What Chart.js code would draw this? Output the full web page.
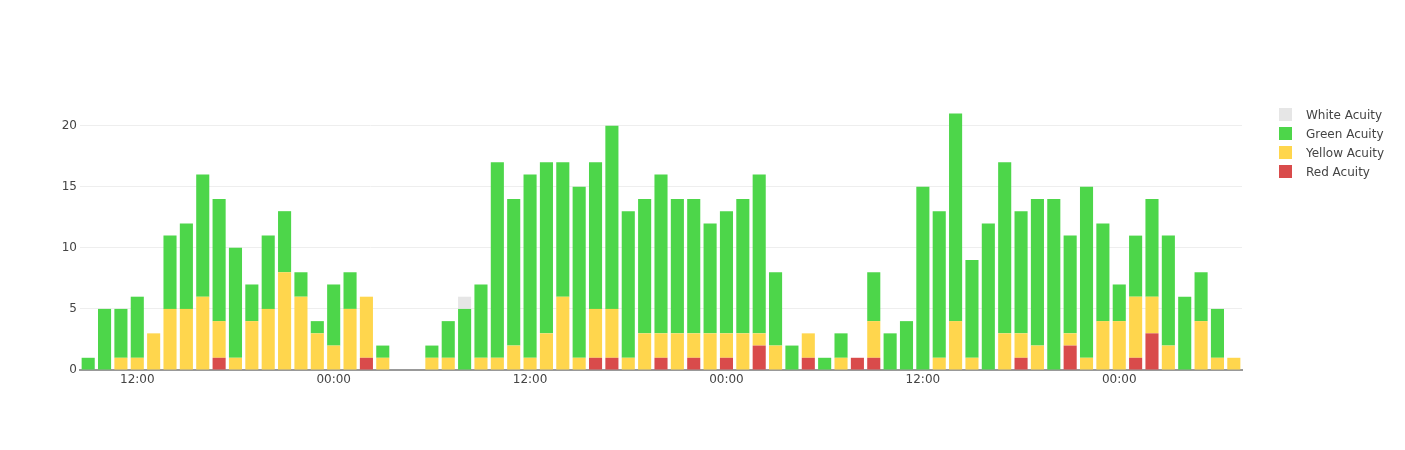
<!DOCTYPE html>
<html>
<head>
<meta charset="utf-8">
<script src="https://cdn.jsdelivr.net/npm/chart.js@4"></script>
<style>
  html, body { margin: 0; padding: 0; background: #fff; }
  #wrap { position: relative; width: 1405px; height: 450px; }
  #legend { position: absolute; left: 1279px; top: 105px; font: 12px "DejaVu Sans", sans-serif; color: #444; }
  #legend div { height: 19px; display: flex; align-items: center; }
  #legend span.box { width: 13px; height: 13px; margin-right: 14px; display: inline-block; }
</style>
</head>
<body>
<div id="wrap">
  <canvas id="acuityChart" width="1405" height="450"></canvas>
  <div id="legend"></div>
</div>
<script>
// hourly buckets, first bar at 09:00
const startHour = 9;
const hourCount = 71;
const hours = [];
for (let i = 0; i < hourCount; i++) {
    hours.push(String((startHour + i) % 24).padStart(2, '0') + ':00');
}

const redAcuity = [
    0, 0, 0, 0, 0, 0, 0, 0, 1, 0, 0, 0, 0, 0, 0,
    0, 0, 1, 0, 0, 0, 0, 0, 0, 0, 0, 0, 0, 0, 0, 0, 1, 1, 0, 0, 1, 0, 1, 0,
    1, 0, 2, 0, 0, 1, 0, 0, 1, 1, 0, 0, 0, 0, 0, 0, 0, 0, 1, 0, 0, 2, 0, 0,
    0, 1, 3, 0, 0, 0, 0, 0
];
const yellowAcuity = [
    0, 0, 1, 1, 3, 5, 5, 6, 3, 1, 4, 5, 8, 6, 3,
    2, 5, 5, 1, 0, 0, 1, 1, 0, 1, 1, 2, 1, 3, 6, 1, 4, 4, 1, 3, 2, 3, 2, 3,
    2, 3, 1, 2, 0, 2, 0, 1, 0, 3, 0, 0, 0, 1, 4, 1, 0, 3, 2, 2, 0, 1, 1, 4,
    4, 5, 3, 2, 0, 4, 1, 1
];
const greenAcuity = [
    1, 5, 4, 5, 0, 6, 7, 10, 10, 9, 3, 6, 5, 2, 1,
    5, 3, 0, 1, 0, 0, 1, 3, 5, 6, 16, 12, 15, 14, 11, 14, 12, 15, 12, 11, 13, 11, 11, 9,
    10, 11, 13, 6, 2, 0, 1, 2, 0, 4, 3, 4, 15, 12, 17, 8, 12, 14, 10, 12, 14, 8, 14, 8,
    3, 5, 8, 9, 6, 4, 4, 0
];
const whiteAcuity = [
    0, 0, 0, 0, 0, 0, 0, 0, 0, 0, 0, 0, 0, 0, 0,
    0, 0, 0, 0, 0, 0, 0, 0, 1, 0, 0, 0, 0, 0, 0, 0, 0, 0, 0, 0, 0, 0, 0, 0,
    0, 0, 0, 0, 0, 0, 0, 0, 0, 0, 0, 0, 0, 0, 0, 0, 0, 0, 0, 0, 0, 0, 0, 0,
    0, 0, 0, 0, 0, 0, 0, 0
];
const yTicks = [0, 5, 10, 15, 20];

const series = [
    { label: 'Red Acuity', data: redAcuity, color: '#d94b4b' },
    { label: 'Yellow Acuity', data: yellowAcuity, color: '#ffd64d' },
    { label: 'Green Acuity', data: greenAcuity, color: '#4dd64a' },
    { label: 'White Acuity', data: whiteAcuity, color: '#e6e6e6' }
];

const font = { family: '"DejaVu Sans", sans-serif', size: 12 };

new Chart(document.getElementById('acuityChart'), {
    type: 'bar',
    data: {
        labels: hours,
        datasets: series.map(s => ({
            label: s.label,
            data: s.data,
            backgroundColor: s.color,
            borderWidth: 0,
            categoryPercentage: 0.8,
            barPercentage: 1
        }))
    },
    options: {
        responsive: false,
        animation: false,
        layout: { padding: { top: 100, right: 163, left: 0, bottom: 0 } },
        plugins: {
            legend: { display: false },
            tooltip: { enabled: false }
        },
        scales: {
            x: {
                stacked: true,
                grid: { display: false, drawTicks: false },
                border: { display: true, color: '#999', width: 2 },
                ticks: {
                    autoSkip: false,
                    maxRotation: 0,
                    padding: 3,
                    color: '#444',
                    font: font,
                    callback: function(value) {
                        const h = hours[value];
                        return (h === '12:00' || h === '00:00') ? h : '';
                    }
                },
                afterFit: function(scale) { scale.height = 80; }
            },
            y: {
                stacked: true,
                min: 0,
                max: 22.1,
                grid: { color: '#eeeeee', drawTicks: false },
                border: { display: false },
                afterBuildTicks: function(scale) {
                    scale.ticks = yTicks.map(v => ({ value: v }));
                },
                ticks: {
                    padding: 3,
                    color: '#444',
                    font: font
                },
                afterFit: function(scale) { scale.width = 80; }
            }
        }
    }
});

// legend, top to bottom in reverse stacking order
const legendDiv = document.getElementById('legend');
series.slice().reverse().forEach(s => {
    const row = document.createElement('div');
    row.innerHTML = '<span class="box" style="background:' + s.color + '"></span>' + s.label;
    legendDiv.appendChild(row);
});
</script>
</body>
</html>
